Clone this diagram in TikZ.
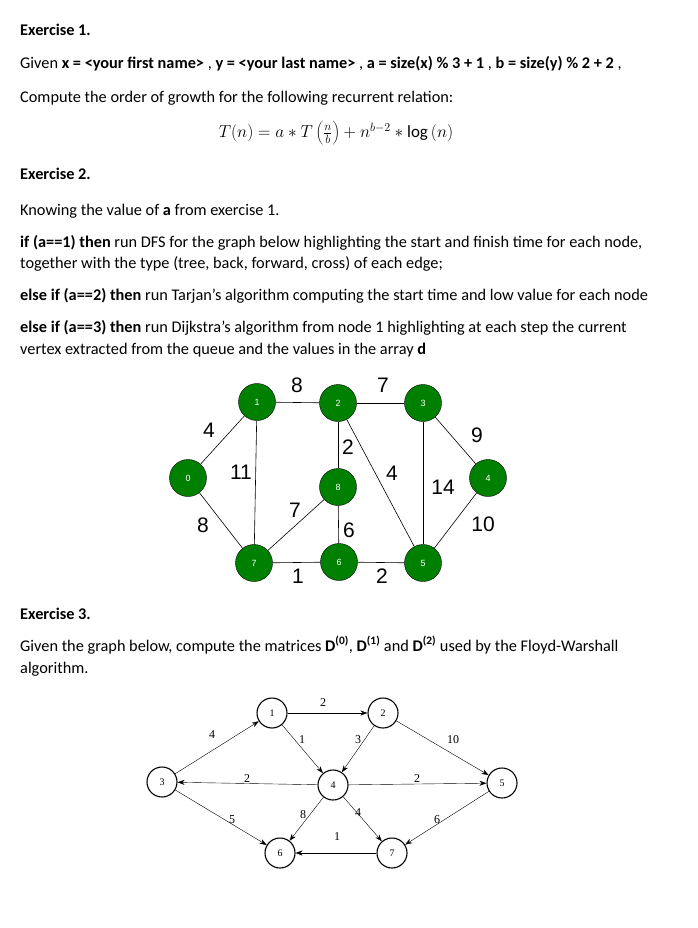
\documentclass[tikz,border=0pt]{standalone}
\usepackage{fontspec}
\setmainfont{Carlito}
\newfontfamily\arialf{Liberation Sans}
\newfontfamily\timesf{Liberation Serif}
\usetikzlibrary{arrows.meta}
\begin{document}
\begin{tikzpicture}[x=1pt,y=-1pt,
  txt/.style={anchor=base west,inner sep=0,font=\fontsize{16.3}{19}\selectfont},
  gn/.style={circle,draw=black,fill=green!50!black,minimum size=37,inner sep=0,text=white,font=\arialf\fontsize{9}{10}\selectfont},
  gl/.style={font=\arialf\fontsize{21}{22}\selectfont,inner sep=0},
  fn/.style={circle,draw=black,line width=1.1,fill=white,minimum size=30,inner sep=0,font=\timesf\fontsize{10}{11}\selectfont},
  fl/.style={font=\timesf\fontsize{12}{13}\selectfont,inner sep=0},
  fe/.style={-{Stealth[length=7,width=5]},line width=0.4}]
\fill[white] (0,0) rectangle (698,928);
\useasboundingbox (0,0) rectangle (698,928);
\node[txt] (t1) at (20,36) {\textbf{Exercise 1.}};
\node[txt] (t2) at (20,69) {Given \textbf{x = <your first name>} , \textbf{y = <your last name>} , \textbf{a = size(x) \% 3 + 1} , \textbf{b = size(y) \% 2 + 2} ,};
\node[txt] (t3) at (20,103) {Compute the order of growth for the following recurrent relation:};
\node[inner sep=0,font=\fontsize{17}{19}\selectfont] (f) at (336,133) {$T(n)=a*T\left(\frac{n}{b}\right)+n^{b-2}*\log\,(n)$};
\node[txt] (t4) at (20,179) {\textbf{Exercise 2.}};
\node[txt] (t5) at (20,215) {Knowing the value of \textbf{a} from exercise 1.};
\node[txt] (t6) at (20,247) {\textbf{if (a==1) then} run DFS for the graph below highlighting the start and finish time for each node,};
\node[txt] (t7) at (20,268) {together with the type (tree, back, forward, cross) of each edge;};
\node[txt] (t8) at (20,300) {\textbf{else if (a==2) then} run Tarjan’s algorithm computing the start time and low value for each node};
\node[txt] (t9) at (20,332) {\textbf{else if (a==3) then} run Dijkstra’s algorithm from node 1 highlighting at each step the current};
\node[txt] (t10) at (20,354) {vertex extracted from the queue and the values in the array \textbf{d}};
% graph 1
\node[gn] (n0) at (188,478) {0};
\node[gn] (n1) at (257,402) {1};
\node[gn] (n2) at (338,403) {2};
\node[gn] (n3) at (423,403) {3};
\node[gn] (n4) at (488,478) {4};
\node[gn] (n8) at (338,487) {8};
\node[gn] (n7) at (254,563) {7};
\node[gn] (n6) at (339,562) {6};
\node[gn] (n5) at (423,563) {5};
\begin{scope}[line width=0.6]
\draw (n0)--(n1); \draw (n0)--(n7); \draw (n1)--(n2); \draw (n1)--(n7);
\draw (n2)--(n3); \draw (n2)--(n8); \draw (n2)--(n5); \draw (n3)--(n4);
\draw (n3)--(n5); \draw (n4)--(n5); \draw (n8)--(n7); \draw (n8)--(n6);
\draw (n7)--(n6); \draw (n6)--(n5);
\end{scope}
\node[gl] (l1) at (297,385) {8};
\node[gl] (l2) at (383,385) {7};
\node[gl] (l3) at (209,430) {4};
\node[gl] (l4) at (241,472) {11};
\node[gl] (l5) at (348,447) {2};
\node[gl] (l6) at (392,473) {4};
\node[gl] (l7) at (477,435) {9};
\node[gl] (l8) at (443,487) {14};
\node[gl] (l9) at (483,524) {10};
\node[gl] (l10) at (203,525) {8};
\node[gl] (l11) at (295,510) {7};
\node[gl] (l12) at (349,530) {6};
\node[gl] (l13) at (298,576) {1};
\node[gl] (l14) at (382,576) {2};
\node[txt] (t11) at (20,619) {\textbf{Exercise 3.}};
\node[txt] (t12) at (20,651) {Given the graph below, compute the matrices \textbf{D\textsuperscript{(0)}}, \textbf{D\textsuperscript{(1)}} and \textbf{D\textsuperscript{(2)}} used by the Floyd-Warshall};
\node[txt] (t13) at (20,673) {algorithm.};
% graph 2
\node[fn] (m1) at (272,713) {1};
\node[fn] (m2) at (383,713) {2};
\node[fn] (m3) at (162,782) {3};
\node[fn] (m4) at (333,785) {4};
\node[fn] (m5) at (502,783) {5};
\node[fn] (m6) at (280,853) {6};
\node[fn] (m7) at (392,853) {7};
\draw[fe] (m1)--(m2); \draw[fe] (m1)--(m4); \draw[fe] (m2)--(m4);
\draw[fe] (m2)--(m5); \draw[fe] (m3)--(m1); \draw[fe] (m4)--(m3);
\draw[fe] (m4)--(m5); \draw[fe] (m3)--(m6); \draw[fe] (m4)--(m6);
\draw[fe] (m4)--(m7); \draw[fe] (m5)--(m7); \draw[fe] (m7)--(m6);
\node[fl] (k1) at (323,703) {2};
\node[fl] (k2) at (302,740) {1};
\node[fl] (k3) at (358,740) {3};
\node[fl] (k4) at (453,740) {10};
\node[fl] (k5) at (212,735) {4};
\node[fl] (k6) at (247,779) {2};
\node[fl] (k7) at (417,779) {2};
\node[fl] (k8) at (232,820) {5};
\node[fl] (k9) at (303,815) {8};
\node[fl] (k10) at (358,813) {4};
\node[fl] (k11) at (437,820) {6};
\node[fl] (k12) at (337,837) {1};
\end{tikzpicture}
\end{document}
